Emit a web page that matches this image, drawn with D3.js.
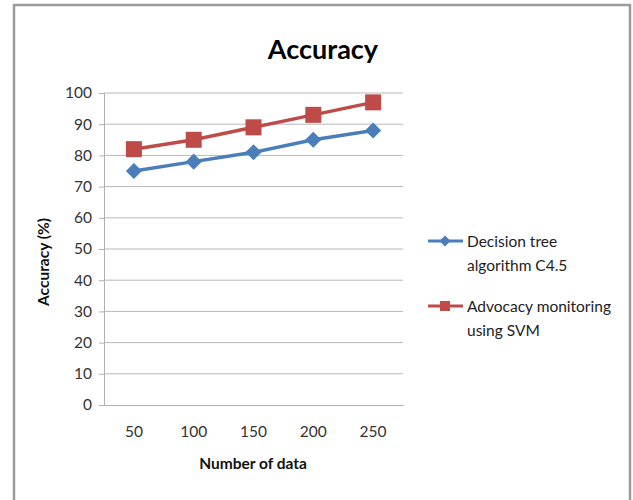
<!DOCTYPE html>
<html><head><meta charset="utf-8">
<script src="https://cdn.jsdelivr.net/npm/d3@7"></script>
<style>body{margin:0;background:#fff;} text{font-family:Lato,"Open Sans",sans-serif;}</style>
</head><body>
<svg id="c" width="633" height="500"></svg>
<script>
const categories = ["50","100","150","200","250"];
const seriesNames = ["Decision tree algorithm C4.5","Advocacy monitoring using SVM"];
const decisionTree = [75, 78, 81, 85, 88];
const svmValues = [82, 85, 89, 93, 97];
const yTicks = [0,10,20,30,40,50,60,70,80,90,100];

const svg = d3.select("#c");
svg.append("rect").attr("x",14).attr("y",5).attr("width",616).attr("height",500)
  .attr("fill","#fff").attr("stroke","#9a9a9a").attr("stroke-width",2.5);

const L=104, R=403, T=93, B=405;
const x = d3.scaleBand().domain(categories).range([L,R]);
const y = d3.scaleLinear().domain([0,100]).range([B,T]);

svg.append("g").selectAll("line").data(yTicks.filter(d=>d>0)).join("line")
  .attr("x1",L).attr("x2",R).attr("y1",d=>y(d)).attr("y2",d=>y(d))
  .attr("stroke","#b8b8b8").attr("stroke-width",1);

const ya = svg.append("g").attr("transform",`translate(${L},0)`)
  .call(d3.axisLeft(y).tickValues(yTicks).tickSize(5).tickPadding(7));
ya.select(".domain").attr("stroke","#b0b0b0");
ya.selectAll(".tick line").attr("stroke","#b0b0b0");
ya.selectAll("text").attr("font-size",15.5).attr("fill","#333").style("font-family","Lato,'Open Sans',sans-serif");

const xa = svg.append("g").attr("transform",`translate(0,${B})`)
  .call(d3.axisBottom(x).tickSize(0).tickPadding(21));
xa.select(".domain").attr("stroke","#b0b0b0");
xa.selectAll("text").attr("font-size",15.5).attr("fill","#333").style("font-family","Lato,'Open Sans',sans-serif");

const line = d3.line().x((d,i)=>x(categories[i])+x.bandwidth()/2).y(d=>y(d));
const blue="#4a7ebb", red="#be4b48";

svg.append("path").datum(decisionTree).attr("d",line).attr("fill","none").attr("stroke",blue).attr("stroke-width",3.5);
svg.append("path").datum(svmValues).attr("d",line).attr("fill","none").attr("stroke",red).attr("stroke-width",3.5);

svg.append("g").selectAll("path").data(decisionTree).join("path")
  .attr("d",d3.symbol().type(d3.symbolSquare).size(130))
  .attr("transform",(d,i)=>`translate(${x(categories[i])+x.bandwidth()/2},${y(d)}) rotate(45)`)
  .attr("fill",blue);
svg.append("g").selectAll("rect").data(svmValues).join("rect")
  .attr("x",(d,i)=>x(categories[i])+x.bandwidth()/2-8).attr("y",d=>y(d)-8)
  .attr("width",16).attr("height",16).attr("fill",red);

svg.append("text").attr("x",323).attr("y",59).attr("text-anchor","middle")
  .attr("font-size",27).attr("font-weight","bold").attr("fill","#000").text("Accuracy");
svg.append("text").attr("x",253).attr("y",469).attr("text-anchor","middle")
  .attr("font-size",15.5).attr("font-weight","bold").attr("fill","#111").text("Number of data");
svg.append("text").attr("transform","translate(49,262) rotate(-90)").attr("text-anchor","middle")
  .attr("font-size",15.5).attr("font-weight","bold").attr("fill","#111").text("Accuracy (%)");

const leg = [
  {lines:["Decision tree","algorithm C4.5"], color:blue, y:241, m:"d"},
  {lines:["Advocacy monitoring","using SVM"], color:red, y:306, m:"s"}
];
leg.forEach(l=>{
  svg.append("line").attr("x1",428).attr("x2",463).attr("y1",l.y).attr("y2",l.y).attr("stroke",l.color).attr("stroke-width",3);
  if(l.m==="d") svg.append("path").attr("d",d3.symbol().type(d3.symbolSquare).size(60)()).attr("transform",`translate(445,${l.y}) rotate(45)`).attr("fill",l.color);
  else svg.append("rect").attr("x",440).attr("y",l.y-5).attr("width",10).attr("height",10).attr("fill",l.color);
  l.lines.forEach((t,i)=>svg.append("text").attr("x",467).attr("y",l.y+6+i*24).attr("font-size",15.5).attr("fill","#222").text(t));
});
</script>
</body></html>
